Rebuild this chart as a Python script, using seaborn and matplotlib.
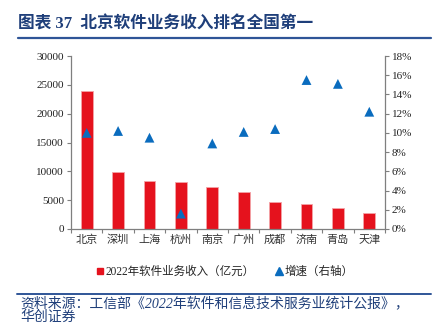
import matplotlib
matplotlib.use("Agg")
import matplotlib.pyplot as plt
import seaborn as sns
import pandas as pd
import numpy as np
from matplotlib.lines import Line2D
from matplotlib.ticker import FuncFormatter, FixedLocator

cities = ["北京", "深圳", "上海", "杭州", "南京", "广州", "成都", "济南", "青岛", "天津"]
revenue = [23950, 9940, 8370, 8200, 7330, 6400, 4650, 4300, 3600, 2740]
growth = [10.0, 10.2, 9.5, 1.6, 8.9, 10.1, 10.4, 15.5, 15.1, 12.2]

sns.set_theme(style="white")
plt.rcParams['font.family'] = ['Liberation Serif', 'Noto Sans CJK SC']
plt.rcParams['axes.unicode_minus'] = False

df = pd.DataFrame({"city": cities, "revenue": revenue, "growth": growth})

RED = "#E5121D"
BLUE = "#0A6CBE"
NAVY = "#1F3F7A"
LINE = "#2F5597"
SPINE = "#7F7F7F"
MIX = ['Liberation Serif', 'Noto Sans CJK SC']

fig = plt.figure(figsize=(4.45, 3.25), dpi=100)
ax = fig.add_axes([71/445, 1-229/325, 314/445, 173/325])

sns.barplot(data=df, x="city", y="revenue", color=RED, width=0.38, ax=ax,
            saturation=1, edgecolor="#F4A3A7", linewidth=0.6)
ax.set_ylim(0, 30000)
ax.set_yticks(np.arange(0, 30001, 5000))
ax.set_xlim(-0.5, 9.5)
ax.set_xlabel("")
ax.set_ylabel("")

ax2 = ax.twinx()
sns.scatterplot(data=df, x="city", y="growth", marker="^", color=BLUE, s=50,
                edgecolor="none", ax=ax2, legend=False)
ax2.set_ylim(0, 18)
ax2.set_yticks(np.arange(0, 18.1, 2))
ax2.yaxis.set_major_formatter(FuncFormatter(lambda v, p: f"{int(round(v))}%"))
ax2.set_ylabel("")
ax2.set_xlim(-0.5, 9.5)

for a in (ax, ax2):
    a.spines['top'].set_visible(False)
    for s in ('left', 'right', 'bottom'):
        a.spines[s].set_color(SPINE)
        a.spines[s].set_linewidth(0.9)
ax.spines['right'].set_visible(False)
ax2.spines['left'].set_visible(False)
ax2.spines['bottom'].set_visible(False)

ax.tick_params(axis='y', which='major', direction='out', length=3, width=0.8,
               color=SPINE, labelsize=8, pad=2, left=True)
ax2.tick_params(axis='y', which='major', direction='out', length=3, width=0.8,
                color=SPINE, labelsize=8, pad=2, right=True)
ax.xaxis.set_minor_locator(FixedLocator(np.arange(-0.5, 10, 1.0)))
ax.tick_params(axis='x', which='major', length=0, labelsize=8, pad=4)
ax.tick_params(axis='x', which='minor', direction='out', length=3, width=0.8,
               color=SPINE, bottom=True)
for lab in ax.get_xticklabels():
    lab.set_family(['Noto Sans CJK SC'])
    lab.set_color("#333333")
for lab in ax.get_yticklabels() + ax2.get_yticklabels():
    lab.set_color("#222222")

# title
fig.text(18/445, 1-24/325, "图表 37  北京软件业务收入排名全国第一", fontsize=12,
         fontweight='bold', color=NAVY, va='center', ha='left', family=MIX)
fig.add_artist(Line2D([18/445, 431/445], [1-38/325, 1-38/325], color=LINE, lw=1.6))

# legend
handles = [Line2D([], [], marker='s', color=RED, linestyle='none', markersize=5),
           Line2D([], [], marker='^', color=BLUE, linestyle='none', markersize=5.5)]
labels = ["2022年软件业务收入（亿元）", "增速（右轴）"]
fig.legend(handles, labels, loc='center', bbox_to_anchor=(224/445, 1-272/325), ncol=2,
           frameon=False, handletextpad=0.0, columnspacing=1.6,
           handlelength=1.0, prop={'family': MIX, 'size': 8.3})

# bottom line and source
fig.add_artist(Line2D([17/445, 431/445], [1-294/325, 1-294/325], color=LINE, lw=1.4))
fig.text(20/445, 1-303/325, "资料来源：工信部《2022年软件和信息技术服务业统计公报》，",
         fontsize=10, color=NAVY, style='italic', va='center', ha='left', family=MIX)
fig.text(20/445, 1-317/325, "华创证券", fontsize=10, color=NAVY, style='italic',
         va='center', ha='left', family=MIX)

fig.savefig("out.png", dpi=100)
